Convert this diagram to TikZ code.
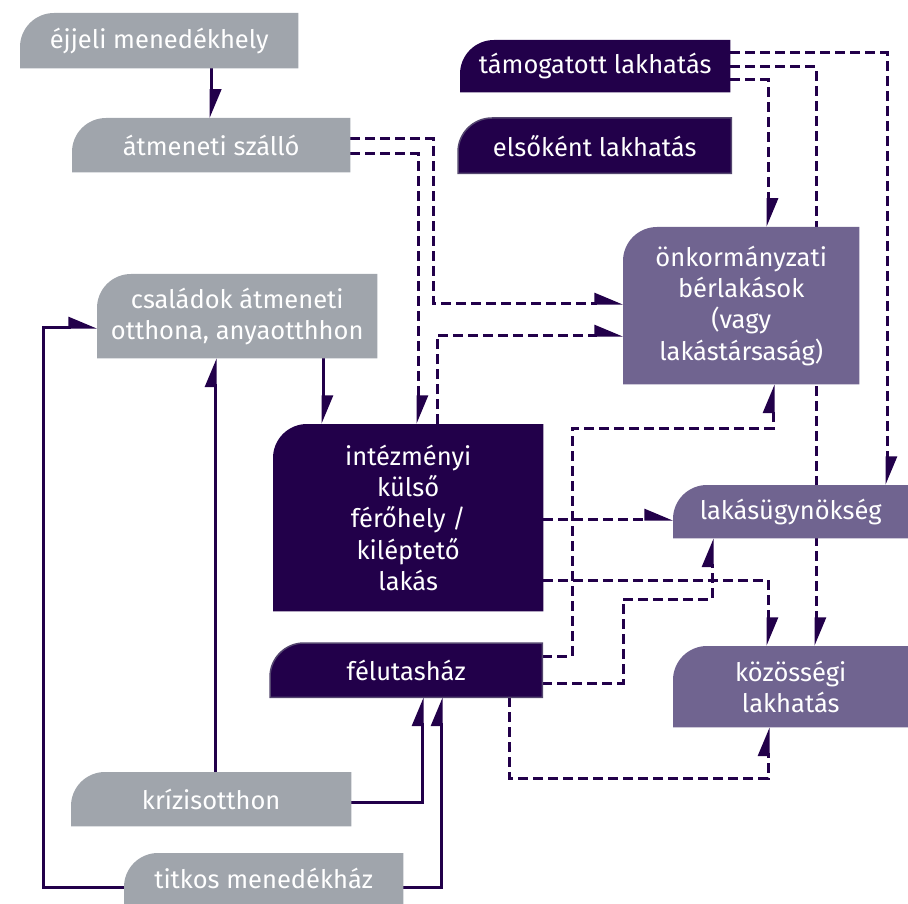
\documentclass[tikz,border=0pt]{standalone}
\usepackage{fontspec}
\setmainfont{Fira Sans}
\usetikzlibrary{arrows.meta}

\definecolor{grayb}{HTML}{A0A5AC}
\definecolor{darkb}{HTML}{22004A}
\definecolor{midb}{HTML}{706490}
\definecolor{edgeb}{HTML}{54466F}
\definecolor{linec}{HTML}{22004A}

\pgfdeclarelayer{lines}
\pgfdeclarelayer{boxes}
\pgfsetlayers{lines,boxes,main}

\tikzset{
  box/.style={anchor=north west, inner sep=0pt, align=center, text=white,
    font=\fontsize{25.5}{31.3}\selectfont},
  gbox/.style={fill=grayb},
  dbox/.style={fill=darkb},
  ebox/.style={fill=darkb, draw=edgeb, line width=1.5pt},
  mbox/.style={fill=midb},
  flow/.style={draw=linec, line width=3pt, -{Triangle[harpoon,length=25pt,width=20pt]}},
  alt/.style={flow, dash pattern=on 10pt off 5pt},
}

% box with one round corner (top left)
\newcommand{\boxfill}[2]{%
  \path[#2] (#1.south west) -- (#1.south east) -- (#1.north east)
    -- ([xshift=34pt]#1.north west) arc[start angle=270,end angle=180,radius=34] -- cycle;}

\begin{document}
\begin{tikzpicture}[x=1pt,y=-1pt]

	\useasboundingbox (0,0) rectangle (908,904);

	\node[box, minimum width=278pt, minimum height=55pt] (ejjeli) at (20,13) {éjjeli menedékhely};
	\node[box, minimum width=278pt, minimum height=54pt] (atmeneti) at (72,118) {átmeneti szálló};
	\node[box, minimum width=270pt, minimum height=52pt] (tamogatott) at (460,40) {támogatott lakhatás};
	\node[box, minimum width=273pt, minimum height=55pt] (elsokent) at (458,118) {elsőként lakhatás};
	\node[box, minimum width=236pt, minimum height=157pt] (onkorm) at (623,227) {önkormányzati\\bérlakások\\(vagy\\lakástársaság)};
	\node[box, minimum width=280pt, minimum height=84pt] (csaladok) at (97,274) {családok átmeneti\\otthona, anyaotthhon};
	\node[box, minimum width=270pt, minimum height=187pt] (intezmenyi) at (273,424) {intézményi\\külső\\férőhely /\\kiléptető\\lakás};
	\node[box, minimum width=235pt, minimum height=53pt] (lakasugy) at (673,485) {lakásügynökség};
	\node[box, minimum width=235pt, minimum height=81pt] (kozossegi) at (673,646) {közösségi\\lakhatás};
	\node[box, minimum width=272pt, minimum height=54pt] (felutas) at (270,643) {félutasház};
	\node[box, minimum width=280pt, minimum height=54pt] (krizis) at (71,772) {krízisotthon};
	\node[box, minimum width=279pt, minimum height=51pt] (titkos) at (124,853) {titkos menedékház};

	\begin{pgfonlayer}{boxes}
	\foreach \n/\s in {ejjeli/gbox, atmeneti/gbox, csaladok/gbox, krizis/gbox, titkos/gbox,
	    tamogatott/dbox, intezmenyi/dbox, elsokent/ebox, felutas/ebox,
	    onkorm/mbox, lakasugy/mbox, kozossegi/mbox}
	  {\boxfill{\n}{\s}}
	\end{pgfonlayer}

	\begin{pgfonlayer}{lines}
	% solid
	\draw[flow] (ejjeli.south -| atmeneti.north) -- (atmeneti.north);
	\draw[flow] (csaladok.south -| 323,0) -- (intezmenyi.north -| 323,0);
	\draw[flow] (krizis.north -| 215,0) -- (csaladok.south -| 215,0);
	\draw[flow] (titkos.west |- 0,887) -| (43,327) -- (csaladok.west |- 0,327);
	\draw[flow] (krizis.east |- 0,802) -| (felutas.south -| 422,0);
	\draw[flow] (titkos.east |- 0,887) -| (felutas.south -| 441,0);

	% dashed
	\draw[alt] (atmeneti.east |- 0,139) -| (433,303) -- (onkorm.west |- 0,303);
	\draw[alt] (atmeneti.east |- 0,154) -| (intezmenyi.north -| 418,0);
	\draw[alt] (intezmenyi.north -| 437,0) |- (onkorm.west |- 0,335);
	\draw[alt] (tamogatott.east |- 0,80) -| (onkorm.north -| 768,0);
	\draw[alt] (tamogatott.east |- 0,67) -| (kozossegi.north -| 816,0);
	\draw[alt] (tamogatott.east |- 0,53) -| (lakasugy.north -| 887,0);
	\draw[alt] (intezmenyi.east |- 0,519) -- (lakasugy.west |- 0,519);
	\draw[alt] (intezmenyi.east |- 0,580) -| (kozossegi.north -| 768,0);
	\draw[alt] (felutas.east |- 0,656) -| (572,428) -| (onkorm.south -| 773,0);
	\draw[alt] (felutas.east |- 0,683) -| (623,599) -| (lakasugy.south -| 712,0);
	\draw[alt] (felutas.south -| 509,0) |- (768,778) -- (kozossegi.south -| 768,0);
	\end{pgfonlayer}

\end{tikzpicture}
\end{document}
